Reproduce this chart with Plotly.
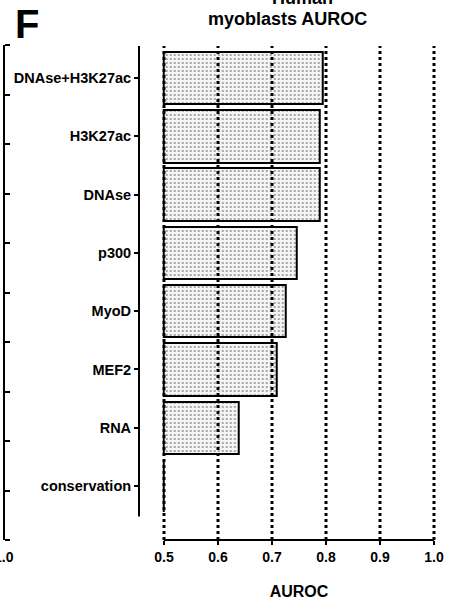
import plotly.graph_objects as go

# ---- data ----
categories = ["DNAse+H3K27ac", "H3K27ac", "DNAse", "p300", "MyoD", "MEF2", "RNA", "conservation"]
auroc = [0.794, 0.788, 0.788, 0.746, 0.726, 0.709, 0.639, 0.5]
x_ticks = [0.5, 0.6, 0.7, 0.8, 0.9, 1.0]
x_tick_labels = ["0.5", "0.6", "0.7", "0.8", "0.9", "1.0"]
baseline = 0.5

W, H = 461, 600
def px(x):
    return x / W
def py(y):
    return 1 - y / H

FONT = "Liberation Sans, Arial, sans-serif"
PAD = 0.006  # axis range padding so the edge grid lines are not clipped
PX_PER_UNIT = 540.0

fig = go.Figure()
fig.add_trace(go.Bar(
    y=categories,
    x=[v - baseline for v in auroc],
    base=baseline,
    orientation="h",
    width=0.9,
    marker=dict(
        color="#f2f2f2",
        line=dict(color="black", width=2),
        pattern=dict(shape=".", fgcolor="#111111", bgcolor="#f5f5f5", size=4, solidity=0.16),
    ),
    showlegend=False,
))
# dummy trace for the cropped neighbour axis on the far left
fig.add_trace(go.Scatter(x=[None], y=[None], yaxis="y2", showlegend=False, hoverinfo="skip"))

fig.update_layout(
    width=W, height=H,
    margin=dict(l=0, r=0, t=0, b=0, autoexpand=False),
    paper_bgcolor="white", plot_bgcolor="white",
    font=dict(family=FONT, color="black"),
    bargap=0,
    xaxis=dict(
        domain=[px(164 - PAD * PX_PER_UNIT), px(434 + PAD * PX_PER_UNIT)],
        range=[0.5 - PAD, 1.0 + PAD],
        tickvals=x_ticks, ticktext=x_tick_labels,
        showgrid=False,
        showline=False,
        ticks="outside", ticklen=4, tickwidth=2, tickcolor="black",
        tickfont=dict(family=FONT, size=14, color="black", weight="bold"),
        zeroline=False, automargin=False,
        title=dict(text="<b>AUROC</b>", font=dict(family=FONT, size=16, color="black"), standoff=24),
    ),
    yaxis=dict(
        domain=[py(540), py(45)],
        categoryorder="array", categoryarray=categories,
        range=[7.926, -0.566],
        anchor="free", position=px(139),
        showline=False, showgrid=False, zeroline=False, automargin=False,
        ticks="outside", ticklen=5, tickwidth=2, tickcolor="black",
        tickfont=dict(family=FONT, size=14.5, color="black", weight="bold"),
    ),
    yaxis2=dict(
        overlaying="y", anchor="free", position=px(3.5), side="right",
        domain=[py(541), py(48)],
        range=[0, 1], dtick=0.1, automargin=False,
        showline=True, linecolor="black", linewidth=2,
        ticks="outside", ticklen=5, tickwidth=2, tickcolor="black",
        showticklabels=False, showgrid=False, zeroline=False,
    ),
)

# x-axis line from 0.5 to 1.0
fig.add_shape(type="line", xref="x", yref="paper",
              x0=x_ticks[0], x1=x_ticks[-1], y0=py(540), y1=py(540), layer="above",
              line=dict(color="black", width=2))

# dotted vertical grid lines drawn on top of the bars, one per x tick
for t in x_ticks:
    fig.add_shape(type="line", xref="x", yref="paper",
                  x0=t, x1=t, y0=py(540), y1=py(46), layer="above",
                  line=dict(color="black", width=3, dash="dot"))

# y-axis line (ends above the x-axis)
fig.add_shape(type="line", xref="paper", yref="paper",
              x0=px(139), x1=px(139), y0=py(516.5), y1=py(46),
              line=dict(color="black", width=2))

# titles / panel letter
fig.add_annotation(text="<b>myoblasts AUROC</b>", xref="paper", yref="paper",
                   x=px(287), y=py(19), xanchor="center", yanchor="middle",
                   showarrow=False, font=dict(family=FONT, size=18, color="black"))
fig.add_annotation(text="<b>Human</b>", xref="paper", yref="paper",
                   x=px(302), y=py(-2), xanchor="center", yanchor="middle",
                   showarrow=False, font=dict(family=FONT, size=18, color="black"))
fig.add_annotation(text="<b>F</b>", xref="paper", yref="paper",
                   x=px(27), y=py(24), xanchor="center", yanchor="middle",
                   showarrow=False, font=dict(family=FONT, size=40, color="black"))
fig.add_annotation(text="<b>1.0</b>", xref="paper", yref="paper",
                   x=px(3.5), y=py(557), xanchor="center", yanchor="middle",
                   showarrow=False, font=dict(family=FONT, size=14, color="black"))

fig.write_html("out.html")
